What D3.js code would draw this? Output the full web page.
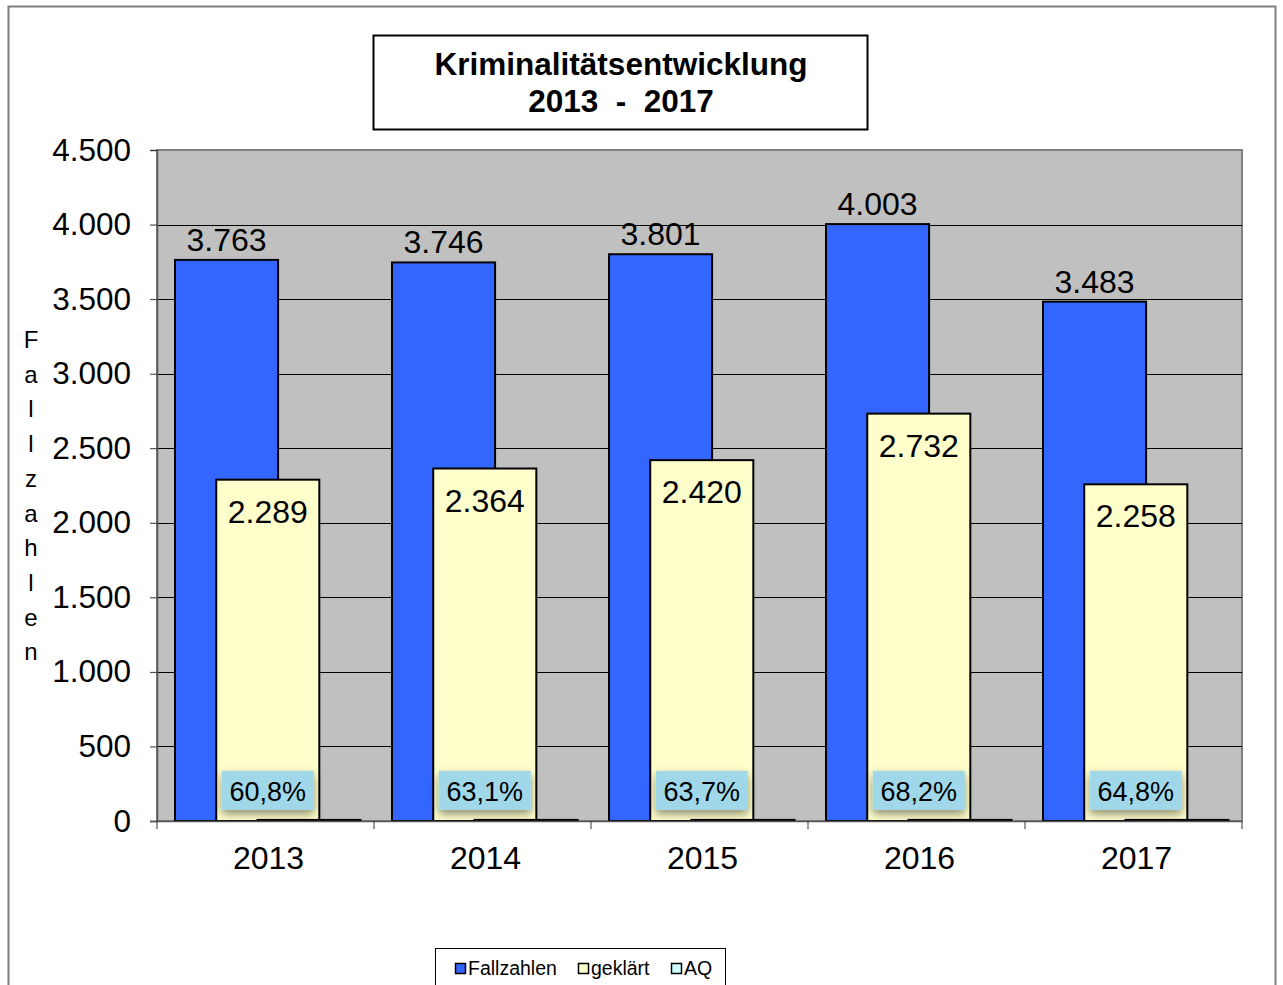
<!DOCTYPE html>
<html>
<head>
<meta charset="utf-8">
<script src="https://cdn.jsdelivr.net/npm/d3@7"></script>
<style>
  body { margin: 0; background: #fff; }
  svg { display: block; font-family: "Liberation Sans", Arial, sans-serif; }
</style>
</head>
<body>
<div id="chart"></div>
<script>
// data
const years = ['2013', '2014', '2015', '2016', '2017'];
const fallzahlen = [3763, 3746, 3801, 4003, 3483];
const geklaert = [2289, 2364, 2420, 2732, 2258];
const aq = [60.8, 63.1, 63.7, 68.2, 64.8];
const yTicks = [0, 500, 1000, 1500, 2000, 2500, 3000, 3500, 4000, 4500];
const seriesNames = ['Fallzahlen', 'geklärt', 'AQ'];
const seriesColors = ['#3366ff', '#ffffcc', '#ccffff'];

const width = 1283, height = 985;
const plot = {left: 157, right: 1242, top: 150, bottom: 821};

const de = d3.formatLocale({decimal: ',', thousands: '.', grouping: [3], currency: ['', '€']});
const fmtInt = de.format(',d');
const fmtPct = de.format('.1f');

const svg = d3.select('#chart').append('svg')
  .attr('width', width)
  .attr('height', height);

const defs = svg.append('defs');
const shadow = defs.append('filter').attr('id', 'shadow')
  .attr('x', '-30%').attr('y', '-40%').attr('width', '160%').attr('height', '200%');
shadow.append('feDropShadow')
  .attr('dx', 0).attr('dy', 4).attr('stdDeviation', 5)
  .attr('flood-color', '#000').attr('flood-opacity', 0.45);

// outer frame
svg.append('rect')
  .attr('x', 8.5).attr('y', 6.5)
  .attr('width', 1267).attr('height', 1000)
  .attr('fill', '#fff')
  .attr('stroke', '#7f7f7f')
  .attr('stroke-width', 2);

// scales
const x = d3.scaleBand().domain(years).range([plot.left, plot.right]);
const y = d3.scaleLinear().domain([0, 4500]).range([plot.bottom, plot.top]);

const bw = x.bandwidth();
const barW = bw * 0.475;
const barStep = bw * 0.19;
const barStart = bw * 0.083;

// plot background
svg.append('rect')
  .attr('x', plot.left).attr('y', plot.top)
  .attr('width', plot.right - plot.left).attr('height', plot.bottom - plot.top)
  .attr('fill', '#c0c0c0')
  .attr('stroke', '#808080')
  .attr('stroke-width', 2);

// gridlines
svg.append('g').selectAll('line')
  .data(yTicks.filter(d => d > 0 && d < 4500))
  .enter().append('line')
  .attr('x1', plot.left).attr('x2', plot.right)
  .attr('y1', d => Math.round(y(d)) + 0.5).attr('y2', d => Math.round(y(d)) + 0.5)
  .attr('stroke', '#000')
  .attr('stroke-width', 1);

// y axis
const yAxis = svg.append('g')
  .attr('transform', 'translate(' + plot.left + ',0)')
  .call(d3.axisLeft(y).tickValues(yTicks).tickSize(7).tickPadding(19).tickFormat(fmtInt));
yAxis.select('.domain').attr('stroke', '#555').attr('stroke-width', 1.5);
yAxis.selectAll('.tick line').attr('stroke', '#333');
yAxis.selectAll('.tick text')
  .style('font-size', '31.5px')
  .attr('fill', '#000');

// y axis title, stacked letters
svg.append('g').selectAll('text')
  .data('Fallzahlen'.split(''))
  .enter().append('text')
  .attr('x', 31)
  .attr('y', (d, i) => 348 + i * 34.7)
  .attr('text-anchor', 'middle')
  .style('font-size', '24px')
  .text(d => d);

const groups = svg.append('g').selectAll('g')
  .data(years)
  .enter().append('g')
  .attr('transform', d => 'translate(' + x(d) + ',0)');

// Fallzahlen bars
groups.append('rect')
  .attr('x', barStart)
  .attr('y', (d, i) => y(fallzahlen[i]))
  .attr('width', barW)
  .attr('height', (d, i) => y(0) - y(fallzahlen[i]))
  .attr('fill', seriesColors[0])
  .attr('stroke', '#000')
  .attr('stroke-width', 2);

// geklärt bars
groups.append('rect')
  .attr('x', barStart + barStep)
  .attr('y', (d, i) => y(geklaert[i]))
  .attr('width', barW)
  .attr('height', (d, i) => y(0) - y(geklaert[i]))
  .attr('fill', seriesColors[1])
  .attr('stroke', '#000')
  .attr('stroke-width', 2);

// AQ bars (percent values, nearly flat on this scale)
groups.append('rect')
  .attr('x', barStart + 2 * barStep)
  .attr('y', (d, i) => y(aq[i] / 100) - 1)
  .attr('width', barW)
  .attr('height', (d, i) => y(0) - y(aq[i] / 100) + 1)
  .attr('fill', seriesColors[2])
  .attr('stroke', '#000')
  .attr('stroke-width', 2);

// labels Fallzahlen
groups.append('text')
  .attr('x', barStart + barW / 2)
  .attr('y', (d, i) => y(fallzahlen[i]) - 9)
  .attr('text-anchor', 'middle')
  .style('font-size', '32px')
  .text((d, i) => fmtInt(fallzahlen[i]));

// labels geklärt
groups.append('text')
  .attr('x', barStart + barStep + barW / 2)
  .attr('y', (d, i) => y(geklaert[i]) + 43)
  .attr('text-anchor', 'middle')
  .style('font-size', '32px')
  .text((d, i) => fmtInt(geklaert[i]));

// labels AQ with shaded box
const aqLabel = groups.append('g')
  .attr('transform', 'translate(' + (barStart + barStep + barW / 2) + ',' + (plot.bottom - 30) + ')');
aqLabel.append('rect')
  .attr('x', -46).attr('y', -20)
  .attr('width', 92).attr('height', 39)
  .attr('fill', '#a0d8ea')
  .attr('filter', 'url(#shadow)');
aqLabel.append('text')
  .attr('y', 10)
  .attr('text-anchor', 'middle')
  .style('font-size', '27px')
  .text((d, i) => fmtPct(aq[i]) + '%');

// x axis
const xAxisG = svg.append('g')
  .attr('transform', 'translate(0,' + plot.bottom + ')');
xAxisG.append('line')
  .attr('x1', plot.left - 7).attr('x2', plot.right)
  .attr('y1', 0.5).attr('y2', 0.5)
  .attr('stroke', '#555').attr('stroke-width', 1.5);
xAxisG.selectAll('line.tick')
  .data(years.concat(['end']))
  .enter().append('line')
  .attr('class', 'tick')
  .attr('x1', (d, i) => plot.left + i * x.step())
  .attr('x2', (d, i) => plot.left + i * x.step())
  .attr('y1', 0).attr('y2', 8)
  .attr('stroke', '#333');
xAxisG.selectAll('text')
  .data(years)
  .enter().append('text')
  .attr('x', d => x(d) + bw / 2 + 3)
  .attr('y', 48)
  .attr('text-anchor', 'middle')
  .style('font-size', '32px')
  .text(d => d);

// title box
const title = svg.append('g');
title.append('rect')
  .attr('x', 373.5).attr('y', 35.5)
  .attr('width', 494).attr('height', 94)
  .attr('fill', '#fff')
  .attr('stroke', '#000')
  .attr('stroke-width', 2);
title.append('text')
  .attr('x', 621).attr('y', 75)
  .attr('text-anchor', 'middle')
  .style('font-size', '31.5px').style('font-weight', 'bold')
  .text('Kriminalitätsentwicklung');
title.append('text')
  .attr('x', 621).attr('y', 112)
  .attr('text-anchor', 'middle')
  .attr('xml:space', 'preserve')
  .style('font-size', '31.5px').style('font-weight', 'bold')
  .style('white-space', 'pre')
  .text('2013  -  2017');

// legend
const legend = svg.append('g');
legend.append('rect')
  .attr('x', 435.5).attr('y', 948.5)
  .attr('width', 290).attr('height', 60)
  .attr('fill', '#fff')
  .attr('stroke', '#000')
  .attr('stroke-width', 1);
const legendX = [455, 578, 671];
const items = legend.selectAll('g.item')
  .data(seriesNames)
  .enter().append('g')
  .attr('class', 'item')
  .attr('transform', (d, i) => 'translate(' + legendX[i] + ',963)');
items.append('rect')
  .attr('x', 0.5).attr('y', 0.5)
  .attr('width', 10).attr('height', 10)
  .attr('fill', (d, i) => seriesColors[i])
  .attr('stroke', '#000')
  .attr('stroke-width', 1.5);
items.append('text')
  .attr('x', 13).attr('y', 12)
  .style('font-size', '19.5px')
  .text(d => d);
</script>
</body>
</html>
